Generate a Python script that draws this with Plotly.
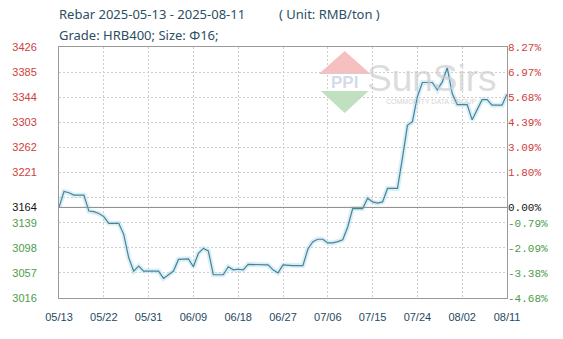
import pandas as pd
import plotly.graph_objects as go

# ---------------- data ----------------
start_date = "2025-05-13"
end_date = "2025-08-11"
prices = [
    3164, 3190, 3188, 3184, 3184, 3184, 3158, 3157, 3154, 3149,
    3138, 3138, 3138, 3120, 3082, 3060, 3068, 3060, 3060, 3060,
    3060, 3048, 3054, 3060, 3079, 3080, 3080, 3067, 3089, 3097,
    3093, 3054, 3054, 3054, 3067, 3062, 3063, 3062, 3071, 3071,
    3071, 3071, 3070, 3062, 3057, 3070, 3069, 3069, 3069, 3069,
    3096, 3108, 3112, 3112, 3106, 3106, 3108, 3111, 3132, 3162,
    3162, 3162, 3179, 3173, 3171, 3173, 3195, 3195, 3195, 3245,
    3298, 3304, 3345, 3368, 3368, 3368, 3356, 3369, 3392, 3350,
    3332, 3332, 3332, 3307, 3324, 3340, 3340, 3331, 3331, 3331,
    3349,
]
dates = pd.date_range(start_date, end_date, freq="D")

base_price = 3164
y_ticks = [3016, 3057, 3098, 3139, 3164, 3180, 3221, 3262, 3303, 3344, 3385, 3426]
left_labels = ["3016", "3057", "3098", "3139", "3164", "", "3221", "3262", "3303", "3344", "3385", "3426"]
right_labels = ["-4.68%", "-3.38%", "-2.09%", "-0.79%", "0.00%", "", "1.80%", "3.09%", "4.39%", "5.68%", "6.97%", "8.27%"]

x_tick_dates = ["2025-05-13", "2025-05-22", "2025-05-31", "2025-06-09", "2025-06-18", "2025-06-27",
                "2025-07-06", "2025-07-15", "2025-07-24", "2025-08-02", "2025-08-11"]
x_tick_labels = ["05/13", "05/22", "05/31", "06/09", "06/18", "06/27",
                 "07/06", "07/15", "07/24", "08/02", "08/11"]

title_main = "Rebar 2025-05-13 - 2025-08-11"
title_unit = "( Unit: RMB/ton )"
subtitle = "Grade: HRB400; Size: Φ16;"

# ---------------- styling ----------------
RED = "#d04040"
GREEN = "#4c9c4c"
BLACK = "#111111"
LINE = "#4a8296"
W, H = 563, 339
L, R, T, B = 57, 56, 47, 41
PW, PH = W - L - R, H - T - B


def px_x(px):
    return (px - L) / PW


def px_y(py):
    return (H - B - py) / PH


def colored(labels, ticks):
    out = []
    for lab, v in zip(labels, ticks):
        if lab == "":
            out.append("")
        elif v > base_price:
            out.append(f"<span style='color:{RED}'>{lab}</span>")
        elif v < base_price:
            out.append(f"<span style='color:{GREEN}'>{lab}</span>")
        else:
            out.append(f"<span style='color:{BLACK}'>{lab}</span>")
    return out


fig = go.Figure()
# soft glow under line
fig.add_trace(go.Scatter(x=dates, y=prices, mode="lines",
                         line=dict(color="rgba(170,220,240,0.45)", width=5),
                         hoverinfo="skip", showlegend=False))
fig.add_trace(go.Scatter(x=dates, y=prices, mode="lines",
                         line=dict(color=LINE, width=1.2),
                         showlegend=False))
# invisible trace for right axis
fig.add_trace(go.Scatter(x=dates, y=prices, mode="lines", yaxis="y2",
                         line=dict(color="rgba(0,0,0,0)", width=0),
                         hoverinfo="skip", showlegend=False))

yrange = [y_ticks[0], y_ticks[-1]]
title_font = dict(family="Noto Sans", size=13, color="#2c4e63")

fig.update_layout(
    width=W, height=H,
    margin=dict(l=L, r=R, t=T, b=B),
    paper_bgcolor="white", plot_bgcolor="white",
    showlegend=False,
    xaxis=dict(
        type="date", range=[start_date, end_date],
        tickvals=x_tick_dates, ticktext=x_tick_labels,
        tickfont=dict(family="Liberation Sans", size=11, color="#1f4a63"),
        ticks="outside", ticklen=9, tickcolor="rgba(0,0,0,0)",
        showgrid=True, gridcolor="#cfcfcf", griddash="2px,2px", gridwidth=1,
        showline=True, linecolor="#9a9a9a", linewidth=1, mirror=True,
        zeroline=False,
    ),
    yaxis=dict(
        range=yrange, tickvals=y_ticks, ticktext=colored(left_labels, y_ticks),
        tickfont=dict(family="Liberation Sans", size=11),
        ticks="outside", ticklen=19, tickcolor="rgba(0,0,0,0)",
        showgrid=True, gridcolor="#cfcfcf", griddash="2px,2px", gridwidth=1,
        showline=True, linecolor="#9a9a9a", linewidth=1, mirror=True,
        zeroline=False,
    ),
    yaxis2=dict(
        range=yrange, tickvals=y_ticks, ticktext=colored(right_labels, y_ticks),
        tickfont=dict(family="Liberation Mono", size=11),
        overlaying="y", side="right", showgrid=False, zeroline=False,
        ticks="", showline=False,
    ),
    shapes=[
        dict(type="line", xref="paper", yref="y", x0=0, x1=1, y0=base_price, y1=base_price,
             line=dict(color="#8a8a8a", width=1), layer="above"),
        dict(type="path", xref="paper", yref="paper", layer="below",
             path=f"M {px_x(318)} {px_y(74)} L {px_x(370)} {px_y(74)} L {px_x(344)} {px_y(51)} Z",
             fillcolor="rgba(240,150,150,0.6)", line=dict(width=0)),
        dict(type="path", xref="paper", yref="paper", layer="below",
             path=f"M {px_x(320)} {px_y(91)} L {px_x(368)} {px_y(91)} L {px_x(344)} {px_y(113)} Z",
             fillcolor="rgba(150,205,150,0.6)", line=dict(width=0)),
    ],
    annotations=[
        dict(text=title_main, xref="paper", yref="paper", x=px_x(55), y=px_y(14),
             xanchor="left", yanchor="middle", showarrow=False, font=title_font),
        dict(text=title_unit, xref="paper", yref="paper", x=px_x(276), y=px_y(14),
             xanchor="left", yanchor="middle", showarrow=False, font=title_font),
        dict(text=subtitle, xref="paper", yref="paper", x=px_x(55), y=px_y(35),
             xanchor="left", yanchor="middle", showarrow=False, font=title_font),
        dict(text="<b>PPI</b>", xref="paper", yref="paper", x=px_x(344), y=px_y(82),
             xanchor="center", yanchor="middle", showarrow=False,
             font=dict(family="Liberation Sans", size=17, color="rgba(200,210,225,0.8)")),
        dict(text="SunSirs", xref="paper", yref="paper", x=px_x(432), y=px_y(78),
             xanchor="center", yanchor="middle", showarrow=False,
             font=dict(family="Liberation Sans", size=37, color="rgba(205,205,205,0.7)")),
        dict(text="COMMODITY DATA GROUP", xref="paper", yref="paper", x=px_x(431), y=px_y(101),
             xanchor="center", yanchor="middle", showarrow=False,
             font=dict(family="Liberation Sans", size=7, color="rgba(200,200,200,0.8)")),
    ],
)

fig.write_html("out.html")
